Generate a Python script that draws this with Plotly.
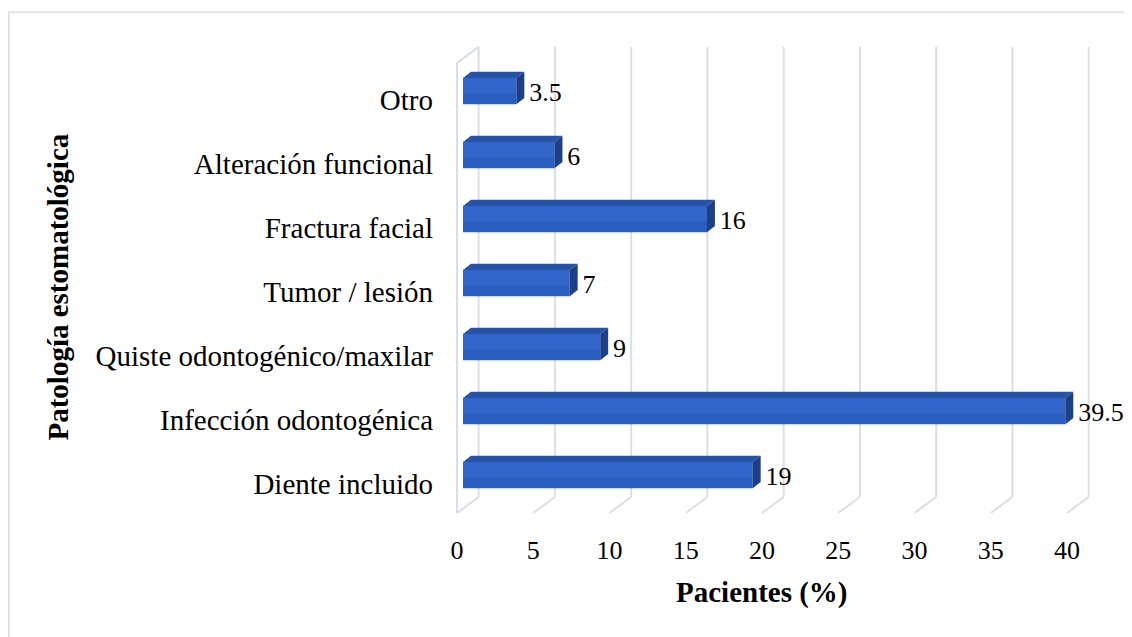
"""3D-style horizontal bar chart: pathology vs. share of patients."""
import plotly.graph_objects as go

categories = [
    "Diente incluido",
    "Infección odontogénica",
    "Quiste odontogénico/maxilar",
    "Tumor / lesión",
    "Fractura facial",
    "Alteración funcional",
    "Otro",
]
values = [19, 39.5, 9, 7, 16, 6, 3.5]
x_ticks = [0, 5, 10, 15, 20, 25, 30, 35, 40]

FONT = "Liberation Serif, Times New Roman, serif"
GRID = "#dadfe7"
FRONT = "#2a5cc0"
HILITE = "rgba(80,140,235,0.22)"
TOP = "#2753a6"
SIDE = "#1c3f87"

# fake-3D geometry (axis units)
BAR_W = 0.41
BAR_DX, BAR_DY = 0.52, 0.095
DEPTH_X, DEPTH_Y = 1.42, 0.25
FLOOR_Y = -0.594
WALL_TOP = 6.44

rows = list(range(len(categories)))

fig = go.Figure()

# front faces
fig.add_trace(go.Bar(
    x=values, y=rows, orientation="h", width=BAR_W,
    marker=dict(color=FRONT, line=dict(width=0)),
    xaxis="x2", hoverinfo="skip",
))

# top and side faces, plus a soft highlight on the upper part of the front
top_x, top_y, side_x, side_y, hi_x, hi_y = [], [], [], [], [], []
for r, v in zip(rows, values):
    t, b = r + BAR_W / 2, r - BAR_W / 2
    top_x += [0, v, v + BAR_DX, BAR_DX, 0, None]
    top_y += [t, t, t + BAR_DY, t + BAR_DY, t, None]
    side_x += [v, v + BAR_DX, v + BAR_DX, v, v, None]
    side_y += [b, b + BAR_DY, t + BAR_DY, t, b, None]
    hi_x += [0, v, v, 0, 0, None]
    hi_y += [r - 0.04, r - 0.04, t, t, r - 0.04, None]

fig.add_trace(go.Scatter(x=hi_x, y=hi_y, fill="toself", fillcolor=HILITE,
                         mode="lines", line=dict(width=0), xaxis="x2",
                         hoverinfo="skip"))
fig.add_trace(go.Scatter(x=top_x, y=top_y, fill="toself", fillcolor=TOP,
                         mode="lines", line=dict(width=0), xaxis="x2",
                         hoverinfo="skip"))
fig.add_trace(go.Scatter(x=side_x, y=side_y, fill="toself", fillcolor=SIDE,
                         mode="lines", line=dict(width=0), xaxis="x2",
                         hoverinfo="skip"))

# value labels
fig.add_trace(go.Scatter(
    x=[v + BAR_DX + 0.32 for v in values], y=[r - 0.06 for r in rows],
    text=[f"{v:g}" for v in values], mode="text", textposition="middle right",
    textfont=dict(family=FONT, size=26, color="#000"),
    xaxis="x2", cliponaxis=False, hoverinfo="skip",
))

# walls / gridlines
shapes = []
for v in x_ticks:
    shapes.append(dict(type="line", xref="x", yref="y", layer="below",
                       x0=v, y0=FLOOR_Y, x1=v + DEPTH_X, y1=FLOOR_Y + DEPTH_Y,
                       line=dict(color=GRID, width=2)))
    shapes.append(dict(type="line", xref="x", yref="y", layer="below",
                       x0=v + DEPTH_X, y0=FLOOR_Y + DEPTH_Y,
                       x1=v + DEPTH_X, y1=WALL_TOP + DEPTH_Y,
                       line=dict(color=GRID, width=2)))
# left wall
shapes.append(dict(type="line", xref="x", yref="y", layer="below",
                   x0=0, y0=FLOOR_Y, x1=0, y1=WALL_TOP,
                   line=dict(color=GRID, width=2)))
shapes.append(dict(type="line", xref="x", yref="y", layer="below",
                   x0=0, y0=WALL_TOP, x1=DEPTH_X, y1=WALL_TOP + DEPTH_Y,
                   line=dict(color=GRID, width=2)))
# chart border
shapes.append(dict(type="rect", xref="paper", yref="paper", layer="below",
                   x0=-0.632, y0=-0.4, x1=1.2, y1=1.058,
                   line=dict(color="#dfe3e8", width=2)))

# page body has an 8px margin, so the figure is sized/offset to compensate
fig.update_layout(
    width=1124, height=629,
    margin=dict(l=432, r=10, t=32, b=117),
    paper_bgcolor="white", plot_bgcolor="rgba(0,0,0,0)",
    showlegend=False, shapes=shapes,
    font=dict(family=FONT, color="#000"),
    xaxis=dict(range=[-1.115, 43.607], tickvals=x_ticks, showgrid=False,
               zeroline=False, showline=False, ticks="",
               tickfont=dict(size=26), ticklabelstandoff=12),
    xaxis2=dict(range=[-1.508, 43.214], overlaying="x", visible=False),
    yaxis=dict(range=[-0.703, 6.797], tickvals=[r - 0.14 for r in rows],
               ticktext=categories, showgrid=False, zeroline=False,
               showline=False, ticks="", tickfont=dict(size=29),
               ticklabelstandoff=6),
    annotations=[
        dict(text="<b>Pacientes (%)</b>", xref="x", yref="paper",
             x=20, y=-0.19, showarrow=False, font=dict(size=29)),
        dict(text="<b>Patología estomatológica</b>", xref="paper",
             yref="paper", x=-0.586, y=0.485, textangle=-90,
             showarrow=False, font=dict(size=29)),
    ],
)

fig.write_html("out.html")
